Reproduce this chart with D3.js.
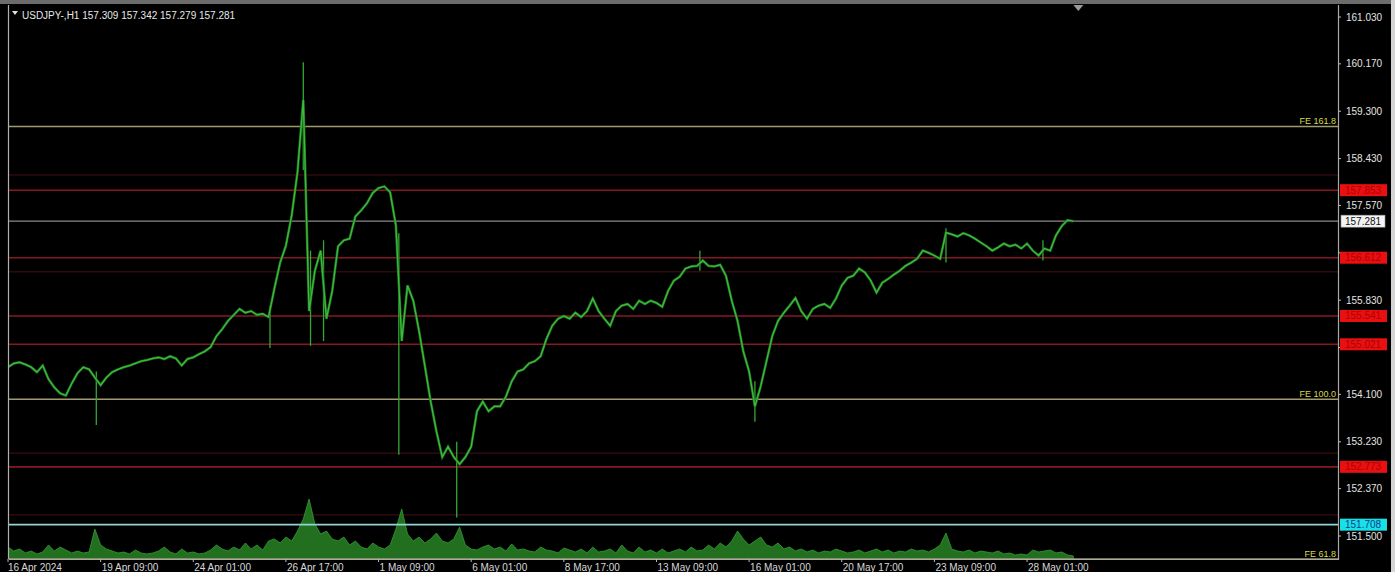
<!DOCTYPE html>
<html><head><meta charset="utf-8">
<script src="https://cdn.jsdelivr.net/npm/d3@7"></script>
<style>
html,body{margin:0;padding:0;background:#000;overflow:hidden}
svg{display:block}
text{font-family:"Liberation Sans",Arial,sans-serif}
</style></head><body>
<svg id="chart" width="1395" height="572"></svg>
<script>
// ---------- data ----------
const titleSymbol = "USDJPY-,H1";
const titleQuote = ["157.309", "157.342", "157.279", "157.281"];
const barStep = 4; // one sample every 4 H1 bars
const closes = [
154.60,154.67,154.69,154.65,154.60,154.51,154.63,154.38,154.23,154.12,
154.08,154.30,154.49,154.60,154.56,154.41,154.27,154.41,154.51,154.56,
154.60,154.63,154.67,154.71,154.73,154.76,154.78,154.75,154.80,154.76,
154.63,154.75,154.78,154.84,154.89,154.97,155.17,155.30,155.45,155.56,
155.67,155.60,155.63,155.56,155.58,155.52,156.04,156.52,156.83,157.39,
158.18,159.51,155.63,156.37,156.74,155.49,156.00,156.82,156.93,156.96,
157.37,157.48,157.61,157.80,157.89,157.92,157.81,157.20,155.08,156.10,
155.82,155.26,154.62,153.97,153.42,152.95,153.14,152.95,152.82,152.95,
153.14,153.79,153.97,153.79,153.88,153.88,154.06,154.34,154.52,154.56,
154.67,154.71,154.80,155.12,155.36,155.49,155.54,155.49,155.60,155.52,
155.63,155.86,155.63,155.49,155.36,155.63,155.73,155.76,155.67,155.82,
155.76,155.82,155.78,155.71,156.00,156.19,156.26,156.41,156.45,156.46,
156.56,156.46,156.45,156.48,156.28,155.82,155.45,154.89,154.52,153.88,
154.25,154.71,155.17,155.45,155.60,155.73,155.87,155.63,155.49,155.67,
155.73,155.76,155.69,155.86,156.10,156.24,156.28,156.41,156.34,156.19,
155.97,156.15,156.22,156.30,156.37,156.46,156.52,156.59,156.74,156.70,
156.65,156.59,157.07,157.04,157.00,157.06,157.02,156.96,156.89,156.82,
156.74,156.80,156.87,156.82,156.85,156.78,156.87,156.74,156.65,156.78,
156.74,157.02,157.19,157.30,157.281
];
const volumes = [
4800,3200,4000,2400,3200,2000,2800,5600,3200,4800,
3600,2400,3200,2400,2800,12000,5600,4000,3200,2400,
2800,2000,3600,2400,2000,2400,3200,4800,2800,2000,
4000,2400,2800,2000,2400,3600,5600,4000,3200,4800,
3600,6400,4000,5600,3600,7200,8000,6400,8800,7200,
11200,16000,24000,14000,10000,11200,8000,7200,8800,5600,
7200,4800,4000,6400,4800,4000,5600,12000,20000,10000,
7200,8800,6400,8000,10400,7200,6400,8000,12800,5600,
4000,3600,4800,5600,4000,4800,3200,6000,3600,4000,
3200,2800,4800,3600,3200,2400,4400,3600,2800,4000,
2400,4800,2800,3200,4000,2400,5600,3200,2400,4800,
2800,3600,2400,4000,2400,3200,4000,2800,4800,3200,
3600,5600,4000,6400,4800,7200,11200,8000,5600,7200,
8800,5600,4800,6400,4000,4800,3200,4000,2800,3600,
2400,3200,2800,4000,3200,2400,2800,3600,2400,3200,
4000,2800,3600,2400,3200,2800,4000,3200,3600,2800,
4000,5600,10400,4000,3200,2800,3600,2400,3200,2800,
2400,3200,2000,2400,1600,2000,1600,3600,2800,3200,
3600,2400,2800,1600,1200
];
// single-bar spikes (bar index, high, low)
const wickBars  = [61, 181, 204, 209, 218, 270, 310, 478, 516, 648, 715];
const wickHighs = [154.52,155.73,160.20,156.74,156.93,157.06,153.23,156.74,154.34,157.15,156.93];
const wickLows  = [153.54,154.95,158.22,154.99,155.08,152.99,151.84,156.37,153.60,156.52,156.56];

const timeTickBars = [0,64,128,192,256,320,384,448,512,576,640,704];
const timeTickLabels = ["16 Apr 2024","19 Apr 09:00","24 Apr 01:00","26 Apr 17:00","1 May 09:00","6 May 01:00",
  "8 May 17:00","13 May 09:00","16 May 01:00","20 May 17:00","23 May 09:00","28 May 01:00"];
const priceTicks = [161.030,160.170,159.300,158.430,157.570,156.700,155.830,154.960,154.100,153.230,152.370,151.500];

const redLevels = [157.85,156.61,155.54,155.02,152.77];
const redLevelLabels = ["157.853","156.612","155.541","155.021","152.773"];
const faintLevels = [158.13,156.35,153.02,151.89];
const feLevels = [159.02,154.01,151.08];
const feLabels = ["FE 161.8","FE 100.0","FE 61.8"];
const currentPrice = 157.281;
const cyanLevel = 151.708;

// ---------- layout ----------
const W = 1395, H = 572;
const L = 9, R = 1338, T = 5, B = 559;
const svg = d3.select("#chart");
svg.append("rect").attr("width", W).attr("height", H).attr("fill", "#000");

const x = d3.scaleLinear().domain([0, 918]).range([8, 1336.8]);
const y = d3.scaleLinear().domain([151.5, 161.03]).range([536, 17]);
const yv = d3.scaleLinear().domain([0, 28000]).range([B, B - 70]);

const plot = svg.append("g");
plot.append("clipPath").attr("id", "clip").append("rect")
  .attr("x", L).attr("y", T).attr("width", R - L).attr("height", B - T);
const g = plot.append("g").attr("clip-path", "url(#clip)");

// faint levels
g.selectAll(".faint").data(faintLevels).join("line")
  .attr("x1", L).attr("x2", R).attr("y1", d => y(d)).attr("y2", d => y(d))
  .attr("stroke", "#2e0a0e").attr("stroke-width", 1.5);

// volume
const volArea = d3.area()
  .x((d, i) => x(i * barStep))
  .y0(B).y1(d => yv(d));
g.append("path").datum(volumes).attr("d", volArea)
  .attr("fill", "#22701f").attr("stroke", "#32a032").attr("stroke-width", 0.8);

// red levels
g.selectAll(".red").data(redLevels).join("line")
  .attr("x1", L).attr("x2", R).attr("y1", d => y(d)).attr("y2", d => y(d))
  .attr("stroke", "#861824").attr("stroke-width", 1.6);

// FE levels
g.selectAll(".fe").data(feLevels).join("line")
  .attr("x1", L).attr("x2", R).attr("y1", d => y(d)).attr("y2", d => y(d))
  .attr("stroke", "#a09a6e").attr("stroke-width", 1.4);

// current price line
g.append("line").attr("x1", L).attr("x2", R)
  .attr("y1", y(currentPrice)).attr("y2", y(currentPrice))
  .attr("stroke", "#8a8a8a").attr("stroke-width", 1.4);

// cyan level
g.append("line").attr("x1", L).attr("x2", R)
  .attr("y1", y(cyanLevel)).attr("y2", y(cyanLevel))
  .attr("stroke", "#8fd6d6").attr("stroke-width", 1.8);

// wicks
g.selectAll(".wick").data(wickBars).join("line")
  .attr("x1", d => x(d)).attr("x2", d => x(d))
  .attr("y1", (d, i) => y(wickHighs[i])).attr("y2", (d, i) => y(wickLows[i]))
  .attr("stroke", "#34a834").attr("stroke-width", 1.3);

// price line
const line = d3.line().x((d, i) => x(i * barStep)).y(d => y(d));
g.append("path").datum(closes).attr("d", line)
  .attr("fill", "none").attr("stroke", "#1c6e1c").attr("stroke-width", 2.6).attr("stroke-linejoin", "miter");
g.append("path").datum(closes).attr("d", line)
  .attr("fill", "none").attr("stroke", "#3cbc3c").attr("stroke-width", 1.3).attr("stroke-linejoin", "miter");

// borders
svg.append("rect").attr("x", 0).attr("y", 0).attr("width", W).attr("height", 4).attr("fill", "#6c6c6c");
svg.append("line").attr("x1", L - 0.5).attr("x2", L - 0.5).attr("y1", T).attr("y2", B)
  .attr("stroke", "#b0b0b0").attr("stroke-width", 1.2);
svg.append("line").attr("x1", L).attr("x2", R).attr("y1", B + 0.5).attr("y2", B + 0.5)
  .attr("stroke", "#a8a8a8").attr("stroke-width", 1.2);
svg.append("line").attr("x1", R + 0.5).attr("x2", R + 0.5).attr("y1", T).attr("y2", B + 1)
  .attr("stroke", "#a8a8a8").attr("stroke-width", 1.2);
svg.append("rect").attr("x", 1391).attr("y", 0).attr("width", 4).attr("height", H).attr("fill", "#d4d4d4");
// shift marker
svg.append("path").attr("d", `M${x(736)},5 l10,0 l-5,6 z`).attr("fill", "#9a9a9a");

// right axis
const boxLevels = redLevels.concat([currentPrice, cyanLevel]);
const visibleTickLabels = priceTicks.filter(t => boxLevels.every(b => Math.abs(y(t) - y(b)) > 10));
const ax = svg.append("g");
ax.selectAll(".pt").data(priceTicks).join("line")
  .attr("x1", R).attr("x2", R + 3).attr("y1", d => y(d)).attr("y2", d => y(d))
  .attr("stroke", "#bbb");
ax.selectAll(".pl").data(visibleTickLabels).join("text")
  .attr("x", 1346).attr("y", d => y(d) + 3.5)
  .attr("font-size", 10).attr("fill", "#e4e4e4")
  .text(d => d3.format(".3f")(d));

// level labels on the axis
const boxW = 47, boxH = 12;
ax.selectAll(".rb").data(redLevels).join("rect")
  .attr("x", 1340).attr("y", d => y(d) - boxH / 2).attr("width", boxW).attr("height", boxH)
  .attr("fill", "#e81010");
ax.selectAll(".rt").data(redLevels).join("text")
  .attr("x", 1345).attr("y", d => y(d) + 3.5).attr("font-size", 10).attr("fill", "#b00000")
  .text((d, i) => redLevelLabels[i]);

ax.append("rect").attr("x", 1341).attr("y", y(currentPrice) - 6).attr("width", 44).attr("height", 12)
  .attr("fill", "#f4f4f4").attr("stroke", "#999").attr("stroke-width", 0.6);
ax.append("text").attr("x", 1345).attr("y", y(currentPrice) + 3.5).attr("font-size", 10).attr("fill", "#111")
  .text(d3.format(".3f")(currentPrice));

ax.append("rect").attr("x", 1340).attr("y", y(cyanLevel) - 6).attr("width", boxW).attr("height", 12)
  .attr("fill", "#19e0e6");
ax.append("text").attr("x", 1345).attr("y", y(cyanLevel) + 3.5).attr("font-size", 10).attr("fill", "#0a3c8c")
  .text(d3.format(".3f")(cyanLevel));

// FE labels
svg.selectAll(".fel").data(feLevels).join("text")
  .attr("x", 1336).attr("y", d => Math.min(y(d) - 2, B - 1)).attr("text-anchor", "end")
  .attr("font-size", 9).attr("fill", "#d8d84a")
  .text((d, i) => feLabels[i]);

// time axis
svg.selectAll(".tt").data(timeTickBars).join("line")
  .attr("x1", d => x(d)).attr("x2", d => x(d)).attr("y1", B).attr("y2", B + 3)
  .attr("stroke", "#bbb");
svg.selectAll(".tl").data(timeTickBars).join("text")
  .attr("x", (d, i) => x(d) + (i === 0 ? 0 : 1)).attr("y", 571)
  .attr("font-size", 10).attr("fill", "#d8d8d8")
  .text((d, i) => timeTickLabels[i]);

// title
svg.append("path").attr("d", "M12,11 l6,0 l-3,4 z").attr("fill", "#e0e0e0");
svg.append("text").attr("x", 22).attr("y", 18.5).attr("font-size", 10).attr("fill", "#e8e8e8")
  .text(titleSymbol + "  " + titleQuote.join(" "));
</script>
</body></html>
